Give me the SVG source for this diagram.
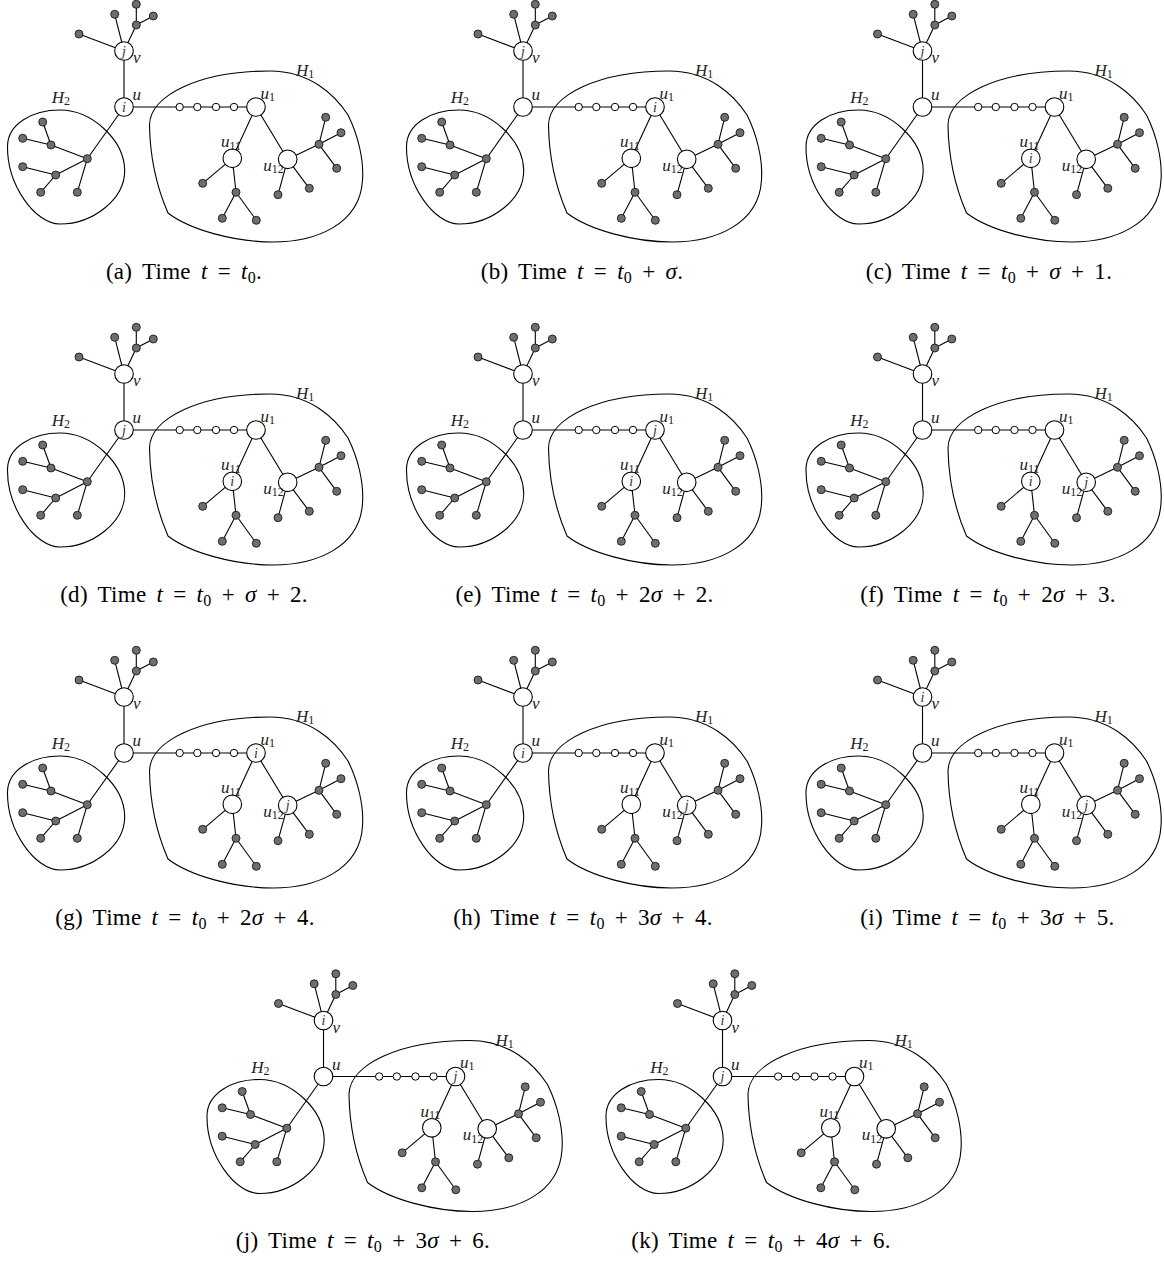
<svg xmlns="http://www.w3.org/2000/svg" xmlns:xlink="http://www.w3.org/1999/xlink" width="1164" height="1263" viewBox="0 0 1164 1263">
<style>
.e{stroke:#000;stroke-width:1.1;fill:none}
.blob{fill:none;stroke:#000;stroke-width:1.1}
.big{fill:#fff;stroke:#000;stroke-width:1.1}
.sm{fill:#fff;stroke:#000;stroke-width:1}
.g{fill:#6e6e6e;stroke:#1a1a1a;stroke-width:0.9}
.lbl{font-family:"Liberation Serif",serif;font-style:italic;font-size:17px;fill:#222}
.sb{font-style:normal;font-size:12px}
.in{font-family:"Liberation Serif",serif;font-style:italic;font-size:14px;fill:#333;text-anchor:middle}
.cap{font-family:"Liberation Serif",serif;font-size:23px;word-spacing:4px;letter-spacing:0.3px;fill:#000;text-anchor:middle}
.it{font-style:italic}
.cs{font-size:16px}
</style>
<defs>
<g id="panel">
  <path class="blob" d="M7.5,146 C8,124 32,110 60,110 C92,110 124,140 124.7,170 C125,200 92,224 60,224 C35,224 7,185 7.5,146 Z"/>
  <path class="blob" d="M149.5,125 C150,95 200,71 270,71 C310,71 335,95 348,115 C358,135 364,160 362.5,180 C360,225 315,242 273,242 C235,242 190,230 168,213 C158,190 150,160 149.5,125 Z"/>
  <g id="connectors">
    <line class="e" x1="124" y1="51" x2="124" y2="107"/>
    <line class="e" x1="124" y1="51" x2="114.7" y2="14.3"/>
    <line class="e" x1="124" y1="51" x2="136.3" y2="25"/>
    <line class="e" x1="136.3" y1="25" x2="136.3" y2="4.3"/>
    <line class="e" x1="136.3" y1="25" x2="153.3" y2="16"/>
    <line class="e" x1="124" y1="51" x2="79" y2="34"/>
    <line class="e" x1="124" y1="107" x2="87.3" y2="158.7"/>
    <line class="e" x1="87.3" y1="158.7" x2="51" y2="145"/>
    <line class="e" x1="51" y1="145" x2="42.7" y2="122"/>
    <line class="e" x1="51" y1="145" x2="22.7" y2="138.3"/>
    <line class="e" x1="87.3" y1="158.7" x2="55.7" y2="175"/>
    <line class="e" x1="55.7" y1="175" x2="22.7" y2="166.7"/>
    <line class="e" x1="55.7" y1="175" x2="40.7" y2="192.3"/>
    <line class="e" x1="87.3" y1="158.7" x2="77.3" y2="192.3"/>
    <line class="e" x1="124" y1="107" x2="256" y2="107"/>
    <line class="e" x1="256" y1="107" x2="232.3" y2="158.3"/>
    <line class="e" x1="256" y1="107" x2="287.7" y2="159.3"/>
    <line class="e" x1="232.3" y1="158.3" x2="202.7" y2="183.3"/>
    <line class="e" x1="232.3" y1="158.3" x2="236" y2="192.3"/>
    <line class="e" x1="236" y1="192.3" x2="222.3" y2="218.3"/>
    <line class="e" x1="236" y1="192.3" x2="256.3" y2="220.3"/>
    <line class="e" x1="287.7" y1="159.3" x2="319" y2="144.3"/>
    <line class="e" x1="319" y1="144.3" x2="325.7" y2="117.3"/>
    <line class="e" x1="319" y1="144.3" x2="341" y2="132.7"/>
    <line class="e" x1="319" y1="144.3" x2="336.7" y2="168.3"/>
    <line class="e" x1="287.7" y1="159.3" x2="278" y2="194.7"/>
    <line class="e" x1="287.7" y1="159.3" x2="309.3" y2="188.3"/>
  </g>
  <g id="node-v"><circle class="big" cx="124" cy="51" r="9.3"/></g>
  <g id="node-u"><circle class="big" cx="124" cy="107" r="9.3"/></g>
  <g id="node-u1"><circle class="big" cx="256" cy="107" r="9.3"/></g>
  <g id="node-u11"><circle class="big" cx="232.3" cy="158.3" r="9.3"/></g>
  <g id="node-u12"><circle class="big" cx="287.7" cy="159.3" r="9.3"/></g>
  <g id="chain">
    <circle class="sm" cx="179.7" cy="107" r="3.7"/>
    <circle class="sm" cx="197.3" cy="107" r="3.7"/>
    <circle class="sm" cx="216" cy="107" r="3.7"/>
    <circle class="sm" cx="234" cy="107" r="3.7"/>
  </g>
  <g id="leaves">
    <circle class="g" cx="114.7" cy="14.3" r="4"/>
    <circle class="g" cx="136.3" cy="25" r="4"/>
    <circle class="g" cx="136.3" cy="4.3" r="4"/>
    <circle class="g" cx="153.3" cy="16" r="4"/>
    <circle class="g" cx="79" cy="34" r="4"/>
    <circle class="g" cx="87.3" cy="158.7" r="4"/>
    <circle class="g" cx="51" cy="145" r="4"/>
    <circle class="g" cx="42.7" cy="122" r="4"/>
    <circle class="g" cx="22.7" cy="138.3" r="4"/>
    <circle class="g" cx="55.7" cy="175" r="4"/>
    <circle class="g" cx="22.7" cy="166.7" r="4"/>
    <circle class="g" cx="40.7" cy="192.3" r="4"/>
    <circle class="g" cx="77.3" cy="192.3" r="4"/>
    <circle class="g" cx="202.7" cy="183.3" r="4"/>
    <circle class="g" cx="236" cy="192.3" r="4"/>
    <circle class="g" cx="222.3" cy="218.3" r="4"/>
    <circle class="g" cx="256.3" cy="220.3" r="4"/>
    <circle class="g" cx="319" cy="144.3" r="4"/>
    <circle class="g" cx="325.7" cy="117.3" r="4"/>
    <circle class="g" cx="341" cy="132.7" r="4"/>
    <circle class="g" cx="336.7" cy="168.3" r="4"/>
    <circle class="g" cx="278" cy="194.7" r="4"/>
    <circle class="g" cx="309.3" cy="188.3" r="4"/>
  </g>
  <g id="labels">
    <text class="lbl" x="133" y="63">v</text>
    <text class="lbl" x="132.5" y="100">u</text>
    <text class="lbl" x="260.5" y="98.5">u<tspan class="sb" dy="2">1</tspan></text>
    <text class="lbl" x="221" y="147">u<tspan class="sb" dy="2.5">11</tspan></text>
    <text class="lbl" x="263.3" y="170.7">u<tspan class="sb" dy="2.5">12</tspan></text>
    <text class="lbl" x="296" y="76">H<tspan class="sb" dy="2">1</tspan></text>
    <text class="lbl" x="51.7" y="103">H<tspan class="sb" dy="2">2</tspan></text>
  </g>
</g>
</defs>

<g id="panel-a" transform="translate(0,0)">
  <use href="#panel"/>
  <text class="in" x="124" y="55.5">j</text>
  <text class="in" x="124" y="111.5">i</text>
</g>
<g id="panel-b" transform="translate(399,0)">
  <use href="#panel"/>
  <text class="in" x="124" y="55.5">j</text>
  <text class="in" x="256" y="111.5">i</text>
</g>
<g id="panel-c" transform="translate(798.5,0)">
  <use href="#panel"/>
  <text class="in" x="124" y="55.5">j</text>
  <text class="in" x="232.3" y="162.8">i</text>
</g>
<g id="panel-d" transform="translate(0,323)">
  <use href="#panel"/>
  <text class="in" x="124" y="111.5">j</text>
  <text class="in" x="232.3" y="162.8">i</text>
</g>
<g id="panel-e" transform="translate(399,323)">
  <use href="#panel"/>
  <text class="in" x="256" y="111.5">j</text>
  <text class="in" x="232.3" y="162.8">i</text>
</g>
<g id="panel-f" transform="translate(798.5,323)">
  <use href="#panel"/>
  <text class="in" x="232.3" y="162.8">i</text>
  <text class="in" x="287.7" y="163.8">j</text>
</g>
<g id="panel-g" transform="translate(0,646)">
  <use href="#panel"/>
  <text class="in" x="256" y="111.5">i</text>
  <text class="in" x="287.7" y="163.8">j</text>
</g>
<g id="panel-h" transform="translate(399,646)">
  <use href="#panel"/>
  <text class="in" x="124" y="111.5">i</text>
  <text class="in" x="287.7" y="163.8">j</text>
</g>
<g id="panel-i" transform="translate(798.5,646)">
  <use href="#panel"/>
  <text class="in" x="124" y="55.5">i</text>
  <text class="in" x="287.7" y="163.8">j</text>
</g>
<g id="panel-j" transform="translate(199.5,969.5)">
  <use href="#panel"/>
  <text class="in" x="124" y="55.5">i</text>
  <text class="in" x="256" y="111.5">j</text>
</g>
<g id="panel-k" transform="translate(598.5,969.5)">
  <use href="#panel"/>
  <text class="in" x="124" y="55.5">i</text>
  <text class="in" x="124" y="111.5">j</text>
</g>

<g id="captions">
  <text class="cap" x="184" y="279">(a) Time <tspan class="it">t</tspan> = <tspan class="it">t</tspan><tspan class="cs" dy="4">0</tspan><tspan dy="-4">.</tspan></text>
  <text class="cap" x="582" y="279">(b) Time <tspan class="it">t</tspan> = <tspan class="it">t</tspan><tspan class="cs" dy="4">0</tspan><tspan dy="-4"> + </tspan><tspan class="it">σ</tspan>.</text>
  <text class="cap" x="989" y="279">(c) Time <tspan class="it">t</tspan> = <tspan class="it">t</tspan><tspan class="cs" dy="4">0</tspan><tspan dy="-4"> + </tspan><tspan class="it">σ</tspan> + 1.</text>
  <text class="cap" x="184" y="602">(d) Time <tspan class="it">t</tspan> = <tspan class="it">t</tspan><tspan class="cs" dy="4">0</tspan><tspan dy="-4"> + </tspan><tspan class="it">σ</tspan> + 2.</text>
  <text class="cap" x="584.5" y="602">(e) Time <tspan class="it">t</tspan> = <tspan class="it">t</tspan><tspan class="cs" dy="4">0</tspan><tspan dy="-4"> + 2</tspan><tspan class="it">σ</tspan> + 2.</text>
  <text class="cap" x="988" y="602">(f) Time <tspan class="it">t</tspan> = <tspan class="it">t</tspan><tspan class="cs" dy="4">0</tspan><tspan dy="-4"> + 2</tspan><tspan class="it">σ</tspan> + 3.</text>
  <text class="cap" x="185" y="925">(g) Time <tspan class="it">t</tspan> = <tspan class="it">t</tspan><tspan class="cs" dy="4">0</tspan><tspan dy="-4"> + 2</tspan><tspan class="it">σ</tspan> + 4.</text>
  <text class="cap" x="583" y="925">(h) Time <tspan class="it">t</tspan> = <tspan class="it">t</tspan><tspan class="cs" dy="4">0</tspan><tspan dy="-4"> + 3</tspan><tspan class="it">σ</tspan> + 4.</text>
  <text class="cap" x="987.5" y="925">(i) Time <tspan class="it">t</tspan> = <tspan class="it">t</tspan><tspan class="cs" dy="4">0</tspan><tspan dy="-4"> + 3</tspan><tspan class="it">σ</tspan> + 5.</text>
  <text class="cap" x="363" y="1248">(j) Time <tspan class="it">t</tspan> = <tspan class="it">t</tspan><tspan class="cs" dy="4">0</tspan><tspan dy="-4"> + 3</tspan><tspan class="it">σ</tspan> + 6.</text>
  <text class="cap" x="761" y="1248">(k) Time <tspan class="it">t</tspan> = <tspan class="it">t</tspan><tspan class="cs" dy="4">0</tspan><tspan dy="-4"> + 4</tspan><tspan class="it">σ</tspan> + 6.</text>
</g>
</svg>
